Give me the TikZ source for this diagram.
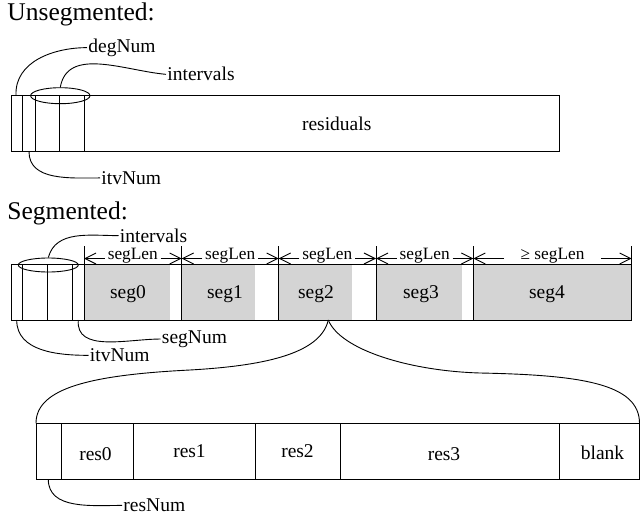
\documentclass[tikz,border=0pt]{standalone}
\usepackage{fontspec}
\setmainfont{Liberation Serif}
\usetikzlibrary{arrows.meta, shapes.geometric}

\tikzset{
  lbl/.style={font=\fontsize{19.5}{22}\selectfont, inner sep=1pt, anchor=base west},
  ttl/.style={font=\fontsize{25.5}{28}\selectfont, inner sep=1pt, anchor=base west},
  celltext/.style={font=\fontsize{19.5}{22}\selectfont, inner sep=1pt, anchor=base},
  lentext/.style={font=\fontsize{17.3}{20}\selectfont, inner xsep=2.5pt, inner ysep=1pt, anchor=base},
  dimarr/.style={-{Straight Barb[length=11pt,width=11pt]}},
  ring/.style={draw, ellipse, inner sep=0pt}
}

\begin{document}
\begin{tikzpicture}[x=1pt, y=-1pt, line width=0.9pt]
    \useasboundingbox (0,0) rectangle (640,519);

    \node [ttl] (unseg) at (6,21) {Unsegmented:};
    \draw (11,95) rectangle (559,151.7);
    \draw (22.7,95) -- (22.7,151.7) (35,95) -- (35,151.7) (59.3,95) -- (59.3,151.7) (84,95) -- (84,151.7);
    \node [celltext] (resid) at (336.7,130.7) {residuals};
    \node [ring, minimum width=59.4pt, minimum height=16pt] (ellA) at (60.3,95.7) {};
    \node [lbl] (degA) at (87,52.3) {degNum};
    \node [lbl] (intA) at (166,81) {intervals};
    \node [lbl] (itvA) at (100,184.3) {itvNum};
    \coordinate (degAstart) at (16,95);
    \coordinate (itvAstart) at (29,151.7);
    \draw (degAstart) to [out=92, in=180] (degA.west);
    \draw (ellA.north) to [out=80, in=175] (intA.west);
    \draw (itvAstart) to [out=-90, in=180] (itvA.west);

    \node [ttl] (seg) at (6,219.5) {Segmented:};
    \fill [black!17] (84,264) rectangle (170,320);
    \fill [black!17] (181.7,264) rectangle (255,320);
    \fill [black!17] (278.7,264) rectangle (351.7,320);
    \fill [black!17] (376,264) rectangle (462.3,320);
    \fill [black!17] (473.3,264) rectangle (631.7,320);
    \draw (11,264) rectangle (631.7,320);
    \draw (22.7,264) -- (22.7,320) (47.7,264) -- (47.7,320) (72.3,264) -- (72.3,320) (84,264) -- (84,320);
    \draw (181.7,264) -- (181.7,320) (278.7,264) -- (278.7,320) (376,264) -- (376,320) (473.3,264) -- (473.3,320);
    \draw (84,246) -- (84,264) (181.7,246) -- (181.7,264) (278.7,246) -- (278.7,264) (376,246) -- (376,264) (473.3,246) -- (473.3,264) (631.7,246) -- (631.7,264);
    \node [celltext] (seg0) at (128,298.3) {seg0};
    \node [celltext] (seg1) at (225,298.3) {seg1};
    \node [celltext] (seg2) at (316,298.3) {seg2};
    \node [celltext] (seg3) at (421,298.3) {seg3};
    \node [celltext] (seg4) at (547,298.3) {seg4};

    \coordinate (t0) at (84,258.5);
    \coordinate (t1) at (181.7,258.5);
    \coordinate (t2) at (278.7,258.5);
    \coordinate (t3) at (376,258.5);
    \coordinate (t4) at (473.3,258.5);
    \coordinate (t5) at (631.7,258.5);
    \node [lentext] (len0) at (132.8,259) {segLen};
    \node [lentext] (len1) at (230.2,259) {segLen};
    \node [lentext] (len2) at (327.3,259) {segLen};
    \node [lentext] (len3) at (424.7,259) {segLen};
    \node [lentext, inner xsep=16pt] (len4) at (552.5,259) {≥ segLen};
    \draw [dimarr] (len0.west |- t0) -- (t0);
    \draw [dimarr] (len0.east |- t1) -- (t1);
    \draw [dimarr] (len1.west |- t1) -- (t1);
    \draw [dimarr] (len1.east |- t2) -- (t2);
    \draw [dimarr] (len2.west |- t2) -- (t2);
    \draw [dimarr] (len2.east |- t3) -- (t3);
    \draw [dimarr] (len3.west |- t3) -- (t3);
    \draw [dimarr] (len3.east |- t4) -- (t4);
    \draw [dimarr] (len4.west |- t4) -- (t4);
    \draw [dimarr] (len4.east |- t5) -- (t5);

    \node [ring, minimum width=60pt, minimum height=14pt] (ellB) at (48.3,265) {};
    \node [lbl] (intB) at (118.5,242.3) {intervals};
    \node [lbl] (segN) at (160.5,343.3) {segNum};
    \node [lbl] (itvB) at (88.5,361.7) {itvNum};
    \coordinate (segNstart) at (78.3,320);
    \coordinate (itvBstart) at (16.7,320);
    \draw (ellB.north) to [out=75, in=180] (intB.west);
    \draw (segNstart) to [out=-95, in=180] (segN.west);
    \draw (itvBstart) to [out=-90, in=180] (itvB.west);

    \draw (36,423.3) rectangle (639.5,479.3);
    \draw (61,423.3) -- (61,479.3) (133.7,423.3) -- (133.7,479.3) (255.7,423.3) -- (255.7,479.3) (340.7,423.3) -- (340.7,479.3) (559.3,423.3) -- (559.3,479.3);
    \node [celltext] (res0) at (95.5,460) {res0};
    \node [celltext] (res1) at (189.5,457.7) {res1};
    \node [celltext] (res2) at (297.5,457.7) {res2};
    \node [celltext] (res3) at (444,460) {res3};
    \node [celltext] (blank) at (602.5,459) {blank};
    \node [lbl] (resN) at (122,511.7) {resNum};
    \coordinate (resNstart) at (48.3,479.3);
    \draw (resNstart) to [out=-90, in=180] (resN.west);

    \coordinate (brtip) at (328.3,320);
    \coordinate (brL) at (190,370);
    \coordinate (brR) at (480,373);
    \coordinate (resNW) at (36,423.3);
    \coordinate (resNE) at (639.5,423.3);
    \draw (brtip) .. controls +(-8,35) and +(70,-4) .. (brL) .. controls +(-100,5) and +(0,-35) .. (resNW);
    \draw (brtip) .. controls +(12,30) and +(-70,-2) .. (brR) .. controls +(100,2) and +(0,-40) .. (resNE);
\end{tikzpicture}
\end{document}
